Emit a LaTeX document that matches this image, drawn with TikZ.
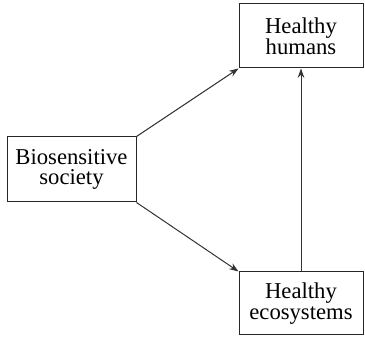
\documentclass[tikz,border=0pt]{standalone}
\usepackage{fontspec}
\setmainfont{Liberation Serif}
\usetikzlibrary{arrows.meta}

\begin{document}
\begin{tikzpicture}
[x=0.75pt,y=-0.75pt,line width=0.75pt,
every node/.style={draw=black!85,rectangle,align=center,inner sep=0pt,
font=\fontsize{17}{15.5}\selectfont}]
\useasboundingbox (0,0) rectangle (365,338);
\node[minimum width=129*0.75pt,minimum height=65*0.75pt] (soc) at (71.5,169.5) {Biosensitive\\society};
\node[minimum width=124*0.75pt,minimum height=64*0.75pt] (hum) at (301,36) {Healthy\\humans};
\node[minimum width=124*0.75pt,minimum height=63*0.75pt] (eco) at (301,303.5) {Healthy\\ecosystems};
\foreach \from/\to in {soc.north east/hum.south west,soc.south east/eco.north west,eco.north/hum.south}
\draw[black!80,-{Stealth[length=7pt,width=5pt]}] (\from) -- (\to);
\end{tikzpicture}
\end{document}
